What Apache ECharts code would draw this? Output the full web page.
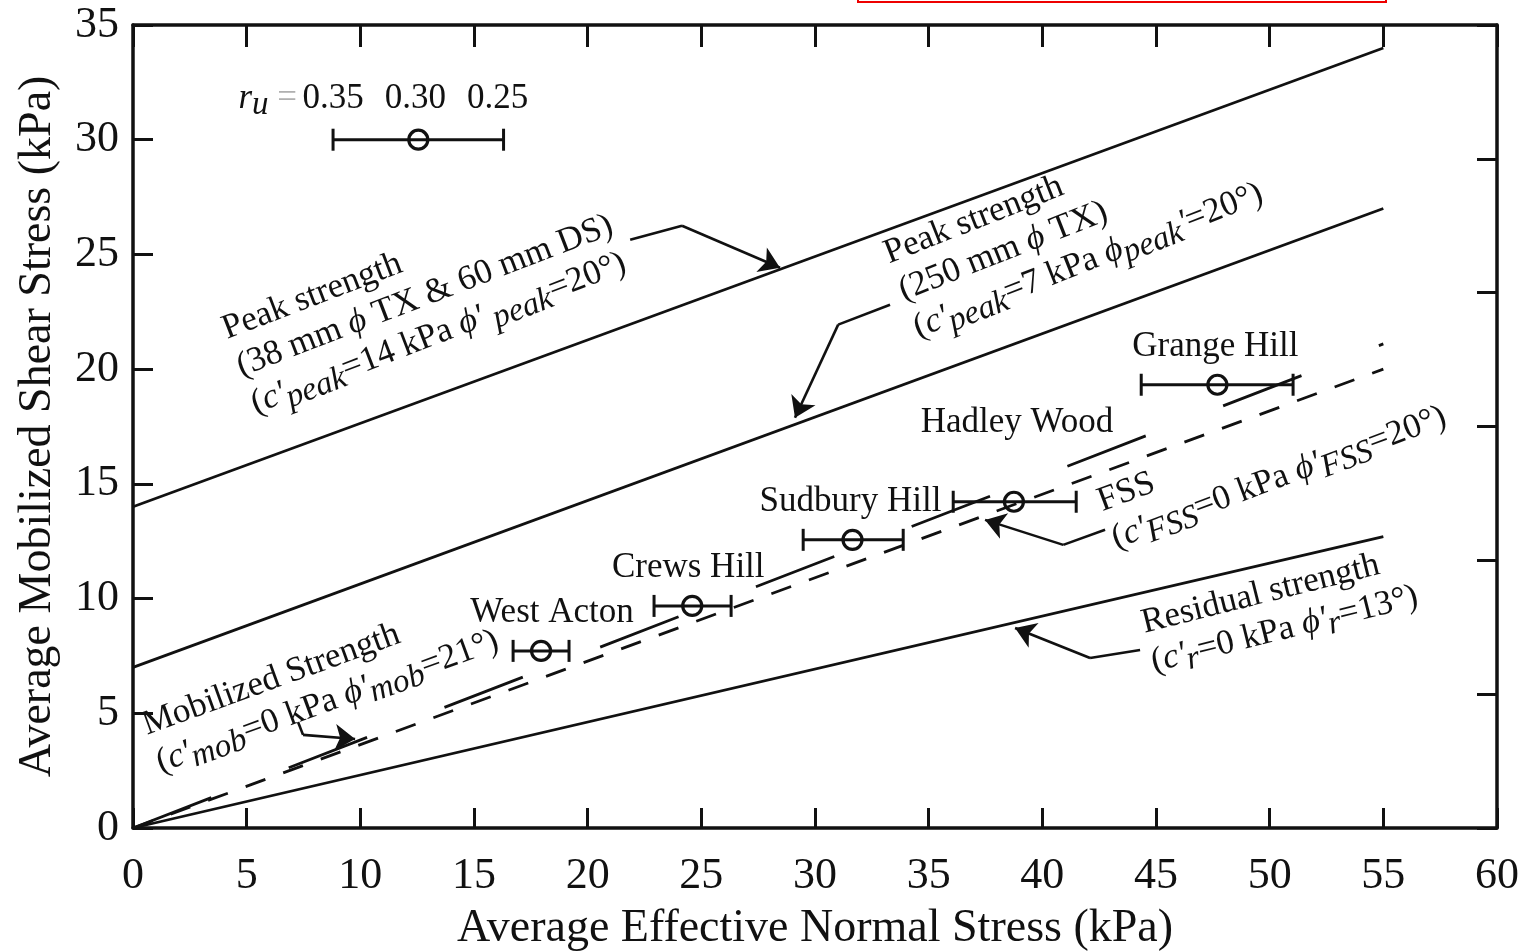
<!DOCTYPE html>
<html>
<head>
<meta charset="utf-8">
<script src="https://cdn.jsdelivr.net/npm/echarts@6/dist/echarts.min.js"></script>
<style>
  html, body { margin: 0; padding: 0; background: #fff; overflow: hidden; }
  #chart { width: 1528px; height: 952px; }
</style>
</head>
<body>
<div id="chart"></div>
<script>
// ---- axis ranges / ticks ----
const xRange = [0, 60];
const xStep = 5;
const yRange = [0, 35];
const yStep = 5;
const rightDivisions = 6;

// ---- strength envelopes: [normal stress, shear stress] end points (kPa) ----
const peak38 = [[0, 14], [55, 34.0]];      // c'=14 kPa, phi'=20 deg
const peak250 = [[0, 7], [55, 27.0]];      // c'=7 kPa, phi'=20 deg
const residual = [[0, 0], [55, 12.7]];     // c'=0 kPa, phi'=13 deg
const fss = [[0, 0], [55, 20.0]];          // c'=0 kPa, phi'=20 deg
const mobilized = [[0, 0], [55, 21.1]];    // c'=0 kPa, phi'=21 deg

// ---- back-analysed slope sites ----
const siteNames = ['West Acton', 'Crews Hill', 'Sudbury Hill', 'Hadley Wood', 'Grange Hill'];
const siteStress = [17.95, 24.6, 31.65, 38.75, 47.7];        // r_u = 0.30
const siteShear = [7.72, 9.68, 12.56, 14.22, 19.32];
const siteStressLow = [16.72, 22.92, 29.48, 36.08, 44.35];   // r_u = 0.35
const siteStressHigh = [19.18, 26.31, 33.88, 41.49, 51.03];  // r_u = 0.25

// ---- r_u key ----
const keyStress = [8.8, 12.55, 16.3];   // r_u = 0.35, 0.30, 0.25
const keyShear = 30;
const ruLabels = ['0.35', '0.30', '0.25'];

// ---- leader arrows (last point is the arrow tip) ----
const arrowPeak38 = [[21.87, 25.64], [24.15, 26.25], [28.46, 24.42]];
const arrowPeak250 = [[33.3, 22.81], [31.02, 21.94], [29.12, 17.88]];
const arrowFss = [[42.76, 13.0], [40.92, 12.34], [37.48, 13.43]];
const arrowResidual = [[44.3, 7.76], [42.1, 7.41], [38.8, 8.72]];
const arrowMob = [[7.26, 4.62], [7.48, 4.06], [9.77, 3.88]];
const arrows = [arrowPeak38, arrowPeak250, arrowFss, arrowResidual, arrowMob];

// ---- style ----
const SERIF = '"Liberation Serif", "Times New Roman", "DejaVu Serif", serif';
const INK = '#111';
const LINE_W = 2.8;

const chart = echarts.init(document.getElementById('chart'), null, { renderer: 'canvas' });

const tickCommon = {
  show: true, inside: true, length: 20,
  lineStyle: { color: INK, width: 3 }
};
const axisLineCommon = { show: true, onZero: false, lineStyle: { color: INK, width: 3.5 } };

function envelope(data, dash) {
  return {
    type: 'line', data: data, symbol: 'none', silent: true,
    xAxisIndex: 0, yAxisIndex: 0,
    lineStyle: { color: INK, width: LINE_W, type: dash || 'solid' },
    z: 3
  };
}

const errorData = siteNames.map((n, i) => [siteStressLow[i], siteStressHigh[i], siteShear[i]])
  .concat([[keyStress[0], keyStress[2], keyShear]]);

const labelOffsets = [[11, 0], [-4, 0], [-2, 0], [3, -41], [-2, 0]];

const option = {
  backgroundColor: '#fff',
  animation: false,
  grid: {
    left: 133, right: 31, top: 25, bottom: 124,
    containLabel: false, outerBoundsMode: 'none'
  },
  xAxis: [
    {
      type: 'value', position: 'bottom', min: xRange[0], max: xRange[1], interval: xStep,
      axisLine: axisLineCommon, axisTick: tickCommon, splitLine: { show: false },
      axisLabel: { color: INK, fontFamily: SERIF, fontSize: 44, margin: 26 },
      name: 'Average Effective Normal Stress (kPa)', nameLocation: 'middle', nameGap: 78,
      nameTextStyle: { color: INK, fontFamily: SERIF, fontSize: 46 }
    },
    {
      type: 'value', position: 'top', min: xRange[0], max: xRange[1], interval: xStep,
      axisLine: axisLineCommon, axisTick: Object.assign({}, tickCommon, { length: 22 }),
      splitLine: { show: false }, axisLabel: { show: false }
    }
  ],
  yAxis: [
    {
      type: 'value', position: 'left', min: yRange[0], max: yRange[1], interval: yStep,
      axisLine: axisLineCommon, axisTick: tickCommon, splitLine: { show: false },
      axisLabel: { color: INK, fontFamily: SERIF, fontSize: 44, margin: 14 },
      name: 'Average Mobilized Shear Stress (kPa)', nameLocation: 'middle', nameGap: 72,
      nameTextStyle: { color: INK, fontFamily: SERIF, fontSize: 46 }
    },
    {
      type: 'value', position: 'right', min: 0, max: rightDivisions, interval: 1,
      axisLine: axisLineCommon, axisTick: tickCommon, splitLine: { show: false },
      axisLabel: { show: false }
    }
  ],
  series: [
    envelope(peak38),
    envelope(peak250),
    envelope(residual),
    envelope(fss, [21, 19]),
    envelope(mobilized, [84, 83]),
    {
      // horizontal range bars for r_u = 0.35 .. 0.25
      type: 'custom', xAxisIndex: 0, yAxisIndex: 0, silent: true, z: 4,
      data: errorData,
      encode: { x: [0, 1], y: 2 },
      renderItem: function (params, api) {
        const lo = api.coord([api.value(0), api.value(2)]);
        const hi = api.coord([api.value(1), api.value(2)]);
        const cap = 11;
        const st = { stroke: INK, lineWidth: 3 };
        return {
          type: 'group',
          children: [
            { type: 'line', shape: { x1: lo[0], y1: lo[1], x2: hi[0], y2: hi[1] }, style: st },
            { type: 'line', shape: { x1: lo[0], y1: lo[1] - cap, x2: lo[0], y2: lo[1] + cap }, style: st },
            { type: 'line', shape: { x1: hi[0], y1: hi[1] - cap, x2: hi[0], y2: hi[1] + cap }, style: st }
          ]
        };
      }
    },
    {
      type: 'scatter', xAxisIndex: 0, yAxisIndex: 0, silent: true, z: 5,
      symbol: 'circle', symbolSize: 19,
      itemStyle: { color: 'rgba(255,255,255,0)', borderColor: INK, borderWidth: 3.2, opacity: 1 },
      label: {
        show: true, position: 'top', distance: 9, formatter: '{b}',
        color: INK, fontFamily: SERIF, fontSize: 35, lineHeight: 36, opacity: 1
      },
      data: siteNames.map((n, i) => ({
        name: n, value: [siteStress[i], siteShear[i]],
        label: { offset: labelOffsets[i] }
      })).concat([{ name: '', value: [keyStress[1], keyShear], label: { show: false } }])
    },
    {
      // leader lines
      type: 'lines', coordinateSystem: 'cartesian2d', xAxisIndex: 0, yAxisIndex: 0,
      polyline: true, silent: true, z: 4,
      lineStyle: { color: INK, width: 2.6, opacity: 1 },
      data: arrows.map(a => ({ coords: a.slice(0, a.length - 1) }))
    },
    {
      // leader arrow heads
      type: 'lines', coordinateSystem: 'cartesian2d', xAxisIndex: 0, yAxisIndex: 0,
      silent: true, z: 4, symbol: ['none', 'arrow'], symbolSize: [1, 20],
      lineStyle: { color: INK, width: 2.6, opacity: 1 },
      data: arrows.map(a => ({ coords: a.slice(a.length - 2) }))
    }
  ]
};

chart.setOption(option);

// ---- rotated annotation blocks ----
const FS = 35;
const LH = 40;
const RICH = {
  i: { fontStyle: 'italic', fontSize: FS, fontFamily: SERIF, fill: INK },
  s: { fontStyle: 'italic', fontSize: 33, fontFamily: SERIF, fill: INK, padding: [14, 0, 0, 0] },
  g: { fontSize: FS, fontFamily: SERIF, fill: '#b0b0b0' }
};

// anchor = left end of the first line's baseline, in data coordinates
const blocks = [
  { anchor: [4.18, 21.2], angle: 21, lines: [
    'Peak strength',
    '(38 mm {i|ϕ} TX & 60 mm DS)',
    "({i|c'}{s|peak}=14 kPa {i|ϕ'} {s|peak}=20°)" ] },
  { anchor: [33.3, 24.5], angle: 21.5, lines: [
    'Peak strength',
    '(250 mm {i|ϕ} TX)',
    "({i|c'}{s|peak}=7 kPa {i|ϕ}{s|peak}{i|'}=20°)" ] },
  { anchor: [42.68, 13.7], angle: 20.5, lines: [
    'FSS',
    "({i|c'}{s|FSS}=0 kPa {i|ϕ'}{s|FSS}=20°)" ] },
  { anchor: [0.66, 3.95], angle: 20, lines: [
    'Mobilized Strength',
    "({i|c'}{s|mob}=0 kPa {i|ϕ'}{s|mob}=21°)" ] },
  { anchor: [44.52, 8.4], angle: 14, lines: [
    'Residual strength',
    "({i|c'}{s|r}=0 kPa {i|ϕ'}{s|r}=13°)" ] }
];

function px(pt) {
  return chart.convertToPixel({ xAxisIndex: 0, yAxisIndex: 0 }, pt);
}

const graphics = blocks.map(b => {
  const p = px(b.anchor);
  return {
    type: 'group', x: p[0], y: p[1], rotation: b.angle * Math.PI / 180, silent: true,
    children: [{
      type: 'text', x: 0, y: -(LH / 2 + 0.34 * FS),
      style: {
        text: b.lines.join('\n'), fontFamily: SERIF, fontSize: FS, lineHeight: LH,
        fill: INK, align: 'left', verticalAlign: 'top', rich: RICH
      }
    }]
  };
});

// r_u key labels above the key bar
const ruShift = [0, -3, -6];
keyStress.forEach((x, i) => {
  const p = px([x, keyShear]);
  graphics.push({
    type: 'text', x: p[0] + ruShift[i], y: p[1] - 41, silent: true,
    style: { text: ruLabels[i], fontFamily: SERIF, fontSize: FS, fill: INK, align: 'center', verticalAlign: 'middle' }
  });
});
const k0 = px([keyStress[0], keyShear]);
graphics.push({
  type: 'text', x: k0[0] - 36, y: k0[1] - 41, silent: true,
  style: {
    text: '{i|r}{s|u} {g|=}', fontFamily: SERIF, fontSize: FS, fill: INK,
    align: 'right', verticalAlign: 'middle', rich: RICH
  }
});

// red frame at the top edge
graphics.push({
  type: 'rect', silent: true,
  shape: { x: 858, y: -12, width: 528, height: 14 },
  style: { fill: 'none', stroke: '#e00', lineWidth: 2 }
});

chart.setOption({ graphic: graphics });
</script>
</body>
</html>
